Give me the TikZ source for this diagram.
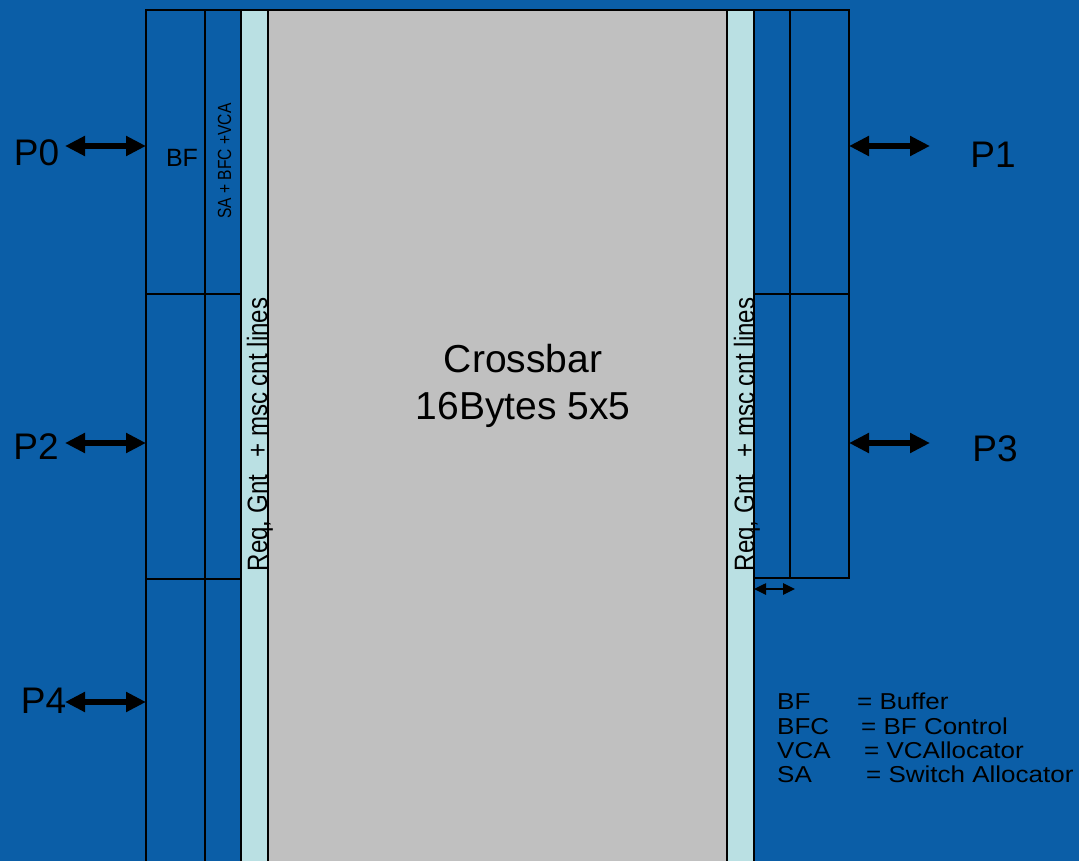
\documentclass[tikz,border=0pt]{standalone}
\usepackage{fontspec}
\usepackage{graphicx}
\setmainfont{Liberation Sans}
\usetikzlibrary{arrows.meta}
\definecolor{bgblue}{RGB}{11,94,167}
\definecolor{stripblue}{RGB}{186,224,227}
\definecolor{xgray}{RGB}{192,192,192}
\tikzset{
  blk/.style={draw=black, line width=1.5pt, fill=bgblue, inner sep=0pt, outer sep=0pt, anchor=north west},
  stripbox/.style={blk, fill=stripblue},
  xbarbox/.style={blk, fill=xgray},
  bigarr/.style={line width=6.5pt, {Triangle[length=20pt,width=19pt]}-{Triangle[length=20pt,width=19pt]}},
  smallarr/.style={line width=2.5pt, {Triangle[length=12pt,width=11pt]}-{Triangle[length=12pt,width=11pt]}},
  plabel/.style={inner sep=0pt, font=\fontsize{37}{40}\selectfont},
  leg/.style={inner sep=0pt, anchor=base west, font=\fontsize{23}{26}\selectfont},
  vtext/.style={inner sep=0pt, anchor=base, rotate=90},
}
\newcommand{\legtext}[1]{\scalebox{1.13}[1]{#1}}
\begin{document}
\begin{tikzpicture}[x=1pt,y=-1pt]
\useasboundingbox (0,0) rectangle (1079,861);
\clip (0,0) rectangle (1079,861);
\fill[bgblue] (0,0) rectangle (1079,861);
% crossbar and strips
\node[xbarbox, minimum width=459pt, minimum height=870pt] (xbar) at (268,10) {};
\node[stripbox, minimum width=27pt, minimum height=870pt] (lstrip) at (241,10) {};
\node[stripbox, minimum width=27pt, minimum height=870pt] (rstrip) at (727,10) {};
% left blocks
\node[blk, minimum width=59pt, minimum height=284pt] (bf0) at (146,10) {};
\node[blk, minimum width=36pt, minimum height=284pt] (ctl0) at (205,10) {};
\node[blk, minimum width=59pt, minimum height=285pt] (bf2) at (146,294) {};
\node[blk, minimum width=36pt, minimum height=285pt] (ctl2) at (205,294) {};
\node[blk, minimum width=59pt, minimum height=300pt] (bf4) at (146,579) {};
\node[blk, minimum width=36pt, minimum height=300pt] (ctl4) at (205,579) {};
% right blocks
\node[blk, minimum width=36pt, minimum height=284pt] (ctl1) at (754,10) {};
\node[blk, minimum width=59pt, minimum height=284pt] (bf1) at (790,10) {};
\node[blk, minimum width=36pt, minimum height=284pt] (ctl3) at (754,294) {};
\node[blk, minimum width=59pt, minimum height=284pt] (bf3) at (790,294) {};
% texts
\node[inner sep=0pt, font=\fontsize{25}{28}\selectfont] (bflab) at (182,158) {BF};
\node[vtext, font=\fontsize{19}{22}\selectfont] (ctllab) at (231,161) {\scalebox{0.82}[1]{SA + BFC +VCA}};
\node[vtext, font=\fontsize{28}{30}\selectfont] (lreq) at (267,434.5) {\scalebox{0.86}[1]{Req, Gnt\hspace{20pt}+ msc cnt lines}};
\node[vtext, font=\fontsize{28}{30}\selectfont] (rreq) at (754,434.5) {\scalebox{0.86}[1]{Req, Gnt\hspace{20pt}+ msc cnt lines}};
\node[inner sep=0pt, anchor=base, font=\fontsize{39}{47}\selectfont] (xl1) at (523,372) {Crossbar};
\node[inner sep=0pt, anchor=base, font=\fontsize{39}{47}\selectfont] (xl2) at (523,419) {16Bytes 5x5};
% port labels
\node[plabel] (P0) at (36.5,152.5) {P0};
\node[plabel] (P2) at (36,447) {P2};
\node[plabel] (P4) at (43.5,701) {P4};
\node[plabel] (P1) at (993,155) {P1};
\node[plabel] (P3) at (995,449) {P3};
% arrows
\coordinate (a0) at (65,146);
\coordinate (a2) at (65,443);
\coordinate (a4) at (65,702);
\coordinate (a1) at (930,146);
\coordinate (a3) at (930,443);
\coordinate (as) at (795,589);
\draw[bigarr] (a0) -- (a0 -| bf0.west);
\draw[bigarr] (a2) -- (a2 -| bf2.west);
\draw[bigarr] (a4) -- (a4 -| bf4.west);
\draw[bigarr] (a1 -| bf1.east) -- (a1);
\draw[bigarr] (a3 -| bf3.east) -- (a3);
\draw[smallarr] (as -| ctl3.west) -- (as);
% legend
\node[leg] (lg1a) at (777,709) {\legtext{BF}};
\node[leg] (lg1b) at (857,709) {\legtext{= Buffer}};
\node[leg] (lg2a) at (777,734) {\legtext{BFC}};
\node[leg] (lg2b) at (861,734) {\legtext{= BF Control}};
\node[leg] (lg3a) at (777,758) {\legtext{VCA}};
\node[leg] (lg3b) at (864,758) {\legtext{= VCAllocator}};
\node[leg] (lg4a) at (777,782) {\legtext{SA}};
\node[leg] (lg4b) at (866,782) {\legtext{= Switch Allocator}};
\end{tikzpicture}
\end{document}
